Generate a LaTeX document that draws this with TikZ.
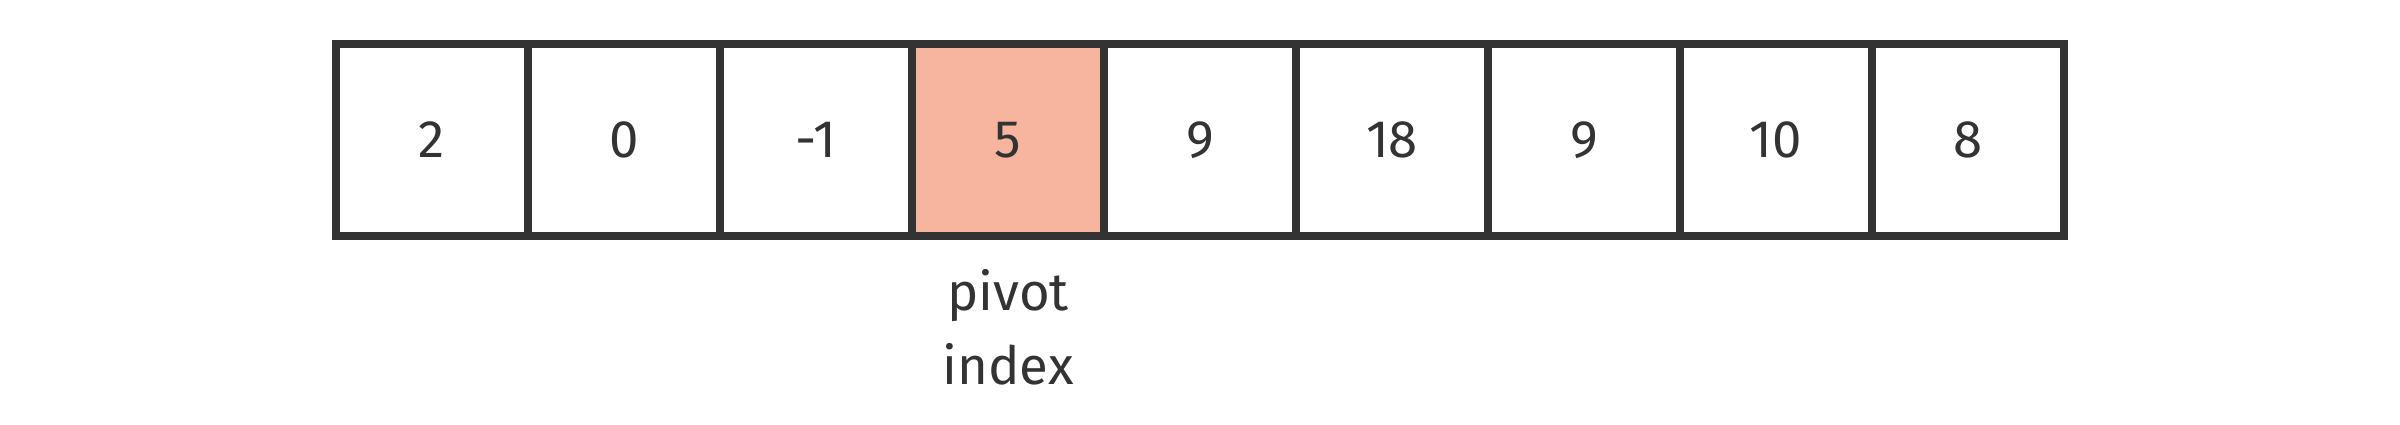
\documentclass[tikz,border=0pt]{standalone}
\usepackage{fontspec}
\setmainfont{Fira Sans}
\usepackage{tikz}
\usetikzlibrary{positioning}
\usetikzlibrary{calc}

\definecolor{darkline}{HTML}{333333}
\definecolor{pivotfill}{HTML}{F7B49E}

\begin{document}
\begin{tikzpicture}[cell/.style={draw=darkline,line width=0.08cm,shape=rectangle,minimum size=1.92cm,inner sep=0pt,text=darkline,font=\fontsize{15}{21}\selectfont}]
    \useasboundingbox (0,0) rectangle (24,-4.24);

    \foreach \v [count=\i] in {2,0,-1,5,9,18,9,10,8}
        \node (cell\i)[cell] at ({3.36+(\i-0.5)*1.92}, -1.40) {\v};

    \node (cell4)[cell,fill=pivotfill] at ({3.36+3.5*1.92}, -1.40) {5};

    \node (pivotlabel)[anchor=base,align=center,text=darkline,font=\fontsize{15}{21}\selectfont] at ($(cell4.center)+(0,-2.44)$) {pivot\\index};
\end{tikzpicture}
\end{document}
